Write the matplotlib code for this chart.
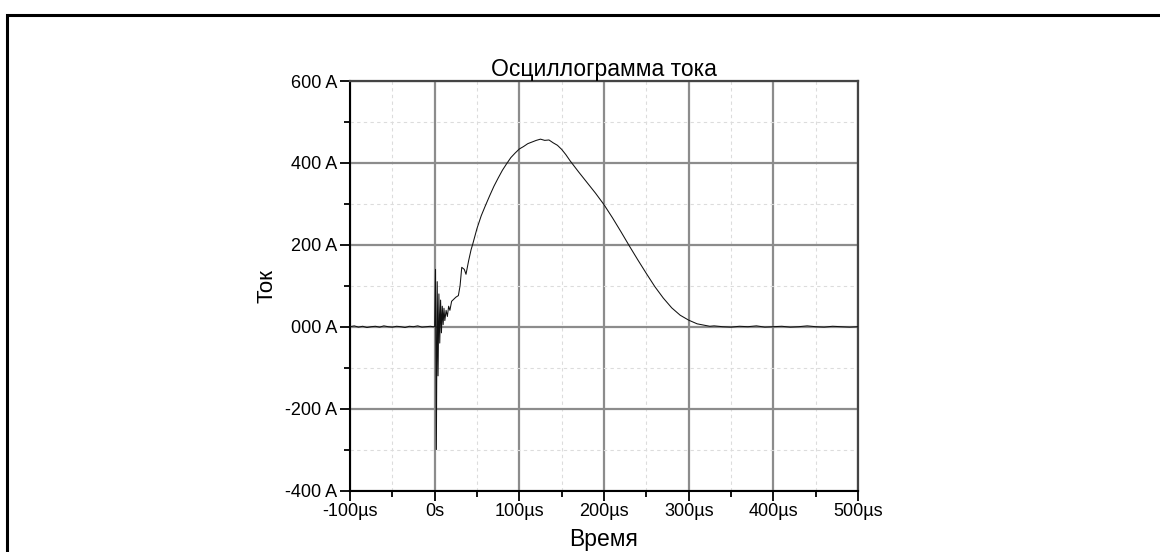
import matplotlib
matplotlib.use("Agg")
import matplotlib.pyplot as plt
from matplotlib.patches import Rectangle
from matplotlib.ticker import MultipleLocator

plt.rcParams['font.family'] = ['Liberation Sans', 'DejaVu Sans']

# time in microseconds, current in amperes
t_base = [-100, -95, -90, -85, -80, -75, -70, -65, -60, -55, -50, -45, -40, -35,
          -30, -25, -20, -15, -10, -5, -2]
i_base = [0, 2, -1, 1, -2, 0, 1, -1, 2, 0, -1, 1, 0, -2, 1, 0, 2, -1, 0, 1, 0]

t_spike = [0.0, 1.0, 2.0, 3.0, 4.0, 5.0, 6.0, 7.0, 8.0, 9.0, 10.0, 11.0, 12.0,
           13.5, 15.0, 16.5, 18.0]
i_spike = [0, 140, -300, 110, -120, 80, -40, 65, -15, 50, 5, 45, 15, 40, 25, 50, 40]

t_pulse = [20, 23, 25, 28, 30, 32, 35, 37, 40, 43, 45, 50, 55, 60, 65, 70, 75, 80,
           85, 90, 95, 100, 105, 110, 115, 120, 125, 130, 135, 140, 145, 150, 155,
           160, 170, 180, 190, 200, 210, 220, 230, 240, 250, 260, 270, 280, 290,
           300, 310, 320]
i_pulse = [62, 68, 72, 76, 100, 145, 140, 128, 160, 188, 202, 240, 271, 296, 320,
           343, 363, 382, 398, 413, 424, 434, 440, 447, 451, 455, 458, 455, 456,
           449, 443, 433, 420, 405, 378, 352, 326, 298, 266, 232, 197, 163, 130,
           98, 70, 46, 28, 16, 7, 3]

t_tail = [325, 330, 340, 350, 360, 370, 380, 390, 400, 410, 420, 430, 440, 450,
          460, 470, 480, 490, 500]
i_tail = [1, 2, 0, -1, 1, 0, 2, -1, 0, 1, -1, 0, 2, 0, -1, 1, 0, -1, 0]

y_ticks = [600, 400, 200, 0, -200, -400]
y_labels = ["600 A", "400 A", "200 A", "000 A", "-200 A", "-400 A"]
x_ticks = [-100, 0, 100, 200, 300, 400, 500]
x_labels = ["-100µs", "0s", "100µs", "200µs", "300µs", "400µs", "500µs"]

t = t_base + t_spike + t_pulse + t_tail
i = i_base + i_spike + i_pulse + i_tail

W, H = 1160, 552
fig = plt.figure(figsize=(W / 100, H / 100), dpi=100)
ax = fig.add_axes([350 / W, 1 - 490.5 / H, (858 - 350) / W, (490.5 - 81) / H])

ax.plot(t, i, color='#111111', lw=0.75, zorder=3)
ax.set_xlim(-100, 500)
ax.set_ylim(-400, 600)

ax.set_xticks(x_ticks)
ax.set_xticklabels(x_labels)
ax.set_yticks(y_ticks)
ax.set_yticklabels(y_labels)
ax.xaxis.set_minor_locator(MultipleLocator(50))
ax.yaxis.set_minor_locator(MultipleLocator(100))

ax.grid(which='major', color='#8c8c8c', lw=1.6, ls='-', zorder=1)
ax.grid(which='minor', color='#dcdcdc', lw=0.8, ls=(0, (3, 3)), zorder=0)

ax.tick_params(which='major', direction='out', length=7, width=1.3, labelsize=13,
               colors='black', pad=2)
ax.tick_params(which='minor', direction='out', length=4, width=1.3)
for s in ['left', 'bottom']:
    ax.spines[s].set_color('black')
    ax.spines[s].set_linewidth(1.5)
for s in ['top', 'right']:
    ax.spines[s].set_color('#444444')
    ax.spines[s].set_linewidth(1.6)

ax.set_title("Осциллограмма тока", fontsize=16.5, pad=2)
ax.set_xlabel("Время", fontsize=16.5, labelpad=6)
ax.set_ylabel("Ток", fontsize=16, labelpad=6)

# figure border
fig.patches.append(Rectangle((7 / W, -0.1), 1.2, 1.1 - 15 / H,
                             transform=fig.transFigure, fill=False,
                             edgecolor='black', lw=2.2, clip_on=False))

fig.savefig("out.png", dpi=100)
